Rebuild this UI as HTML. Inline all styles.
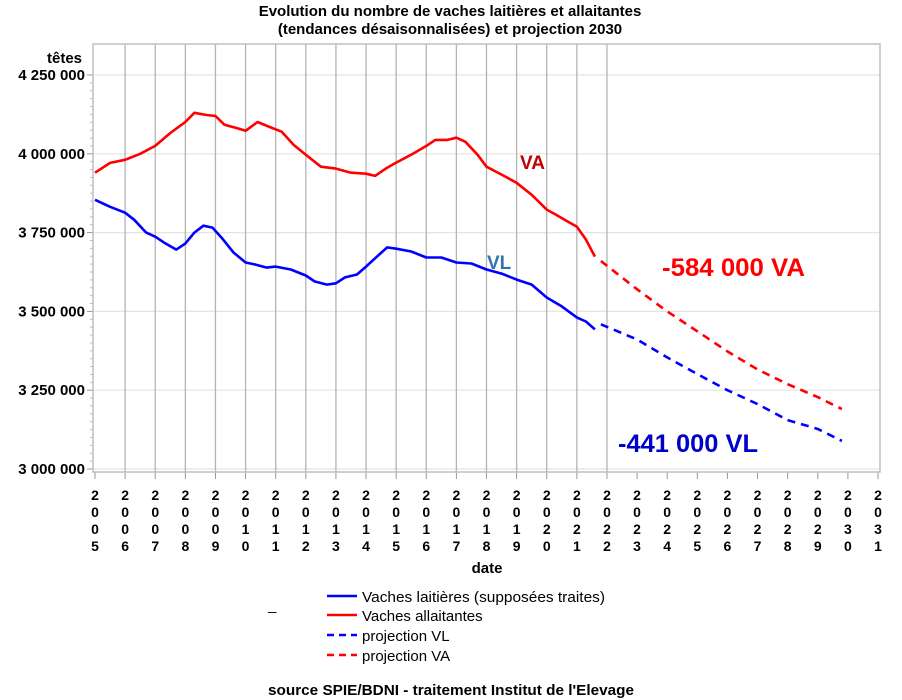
<!DOCTYPE html>
<html><head><meta charset="utf-8"><style>
html,body{margin:0;padding:0;background:#fff;}
svg{display:block;font-family:"Liberation Sans",Arial,sans-serif;}
</style></head><body>
<svg id="chart" width="902" height="700" viewBox="0 0 902 700" xmlns="http://www.w3.org/2000/svg">
<g font-weight="bold" font-size="15" text-anchor="middle">
<text x="450" y="16">Evolution du nombre de vaches laitières et allaitantes</text>
<text x="450" y="34">(tendances désaisonnalisées) et projection 2030</text>
</g>
<text x="47" y="63" font-weight="bold" font-size="15">têtes</text>
<g id="grid"></g>
<g id="yaxis"></g>
<g id="xaxis"></g>
<g id="series"></g>
<rect x="93" y="44" width="787" height="428" fill="none" stroke="#bcc0c4" stroke-width="1.5"/>
<text x="520" y="169" fill="#c00000" font-weight="bold" font-size="19">VA</text>
<text x="487" y="269" fill="#2e75b6" font-weight="bold" font-size="19">VL</text>
<text x="662" y="276" fill="#ff0000" font-weight="bold" font-size="25" textLength="143" lengthAdjust="spacingAndGlyphs">-584 000 VA</text>
<text x="618" y="452" fill="#0000cc" font-weight="bold" font-size="25" textLength="140" lengthAdjust="spacingAndGlyphs">-441 000 VL</text>
<text x="487" y="573" font-weight="bold" font-size="15" text-anchor="middle">date</text>
<g font-size="15">
<text x="268" y="610">_</text>
<line x1="327" y1="596" x2="357" y2="596" stroke="#0000ff" stroke-width="2.5"/>
<text x="362" y="602" textLength="243" lengthAdjust="spacingAndGlyphs">Vaches laitières (supposées traites)</text>
<line x1="327" y1="615" x2="357" y2="615" stroke="#ff0000" stroke-width="2.5"/>
<text x="362" y="621">Vaches allaitantes</text>
<line x1="327" y1="635" x2="357" y2="635" stroke="#0000ff" stroke-width="2.5" stroke-dasharray="7,5"/>
<text x="362" y="641">projection VL</text>
<line x1="327" y1="655" x2="357" y2="655" stroke="#ff0000" stroke-width="2.5" stroke-dasharray="7,5"/>
<text x="362" y="661">projection VA</text>
</g>
<text x="451" y="695" font-weight="bold" font-size="15" text-anchor="middle" textLength="366" lengthAdjust="spacingAndGlyphs">source SPIE/BDNI - traitement Institut de l'Elevage</text>
</svg>
<script>
const yTicks=[3000000,3250000,3500000,3750000,4000000,4250000];
const yTickLabels=["3 000 000","3 250 000","3 500 000","3 750 000","4 000 000","4 250 000"];
const xYears=[2005,2006,2007,2008,2009,2010,2011,2012,2013,2014,2015,2016,2017,2018,2019,2020,2021,2022,2023,2024,2025,2026,2027,2028,2029,2030,2031];
const vaDates=[2005,2005.5,2006,2006.5,2007,2007.5,2008,2008.3,2008.7,2009,2009.3,2009.7,2010,2010.4,2010.8,2011.2,2011.6,2012,2012.5,2013,2013.5,2014,2014.3,2014.7,2015,2015.5,2016,2016.3,2016.7,2017,2017.3,2017.7,2018,2018.5,2019,2019.5,2020,2020.3,2020.7,2021,2021.3,2021.6];
const vaValues=[3940000,3971000,3981000,4000000,4025000,4066000,4101000,4130000,4123000,4120000,4092000,4082000,4073000,4101000,4085000,4070000,4028000,3997000,3959000,3953000,3940000,3937000,3930000,3956000,3972000,3997000,4025000,4044000,4044000,4051000,4038000,3997000,3959000,3934000,3908000,3870000,3823000,3807000,3785000,3769000,3728000,3674000];
const vlDates=[2005,2005.5,2006,2006.3,2006.7,2007,2007.3,2007.7,2008,2008.3,2008.6,2008.9,2009.2,2009.6,2010,2010.3,2010.7,2011,2011.5,2012,2012.3,2012.7,2013,2013.3,2013.7,2014,2014.4,2014.7,2015,2015.5,2016,2016.5,2017,2017.5,2018,2018.5,2019,2019.5,2020,2020.5,2021,2021.3,2021.6];
const vlValues=[3854000,3832000,3813000,3791000,3750000,3737000,3718000,3696000,3715000,3750000,3772000,3766000,3734000,3687000,3655000,3649000,3639000,3642000,3633000,3614000,3595000,3585000,3589000,3608000,3617000,3642000,3677000,3703000,3699000,3690000,3671000,3671000,3655000,3652000,3633000,3620000,3601000,3585000,3544000,3516000,3481000,3468000,3443000];
const projDates=[2021.8,2023,2024,2025,2026,2027,2028,2029,2029.8];
const projVA=[3660000,3570000,3500000,3437000,3373000,3316000,3269000,3228000,3190000];
const projVL=[3459000,3411000,3354000,3301000,3250000,3206000,3155000,3127000,3089000];

const NS="http://www.w3.org/2000/svg";
const xS=d=>95+(d-2005)*(783/26);
const yS=v=>469-(v-3000000)*(394/1250000);
function mk(tag,attrs,parent){const e=document.createElementNS(NS,tag);for(const k in attrs)e.setAttribute(k,attrs[k]);parent.appendChild(e);return e;}
const grid=document.getElementById('grid'),yax=document.getElementById('yaxis'),xax=document.getElementById('xaxis'),ser=document.getElementById('series');
yTicks.forEach((t,i)=>{
  const l=mk('line',{x1:93,x2:880,y1:yS(t),y2:yS(t),stroke:'#e4e4e4','stroke-width':1.2},grid);
  
  
  const tk=mk('line',{x1:87,x2:93,y1:yS(t),y2:yS(t),stroke:'#999','stroke-width':1},yax);
  
  
  const tx=mk('text',{x:85,y:yS(t)+5,'text-anchor':'end','font-weight':'bold','font-size':15},yax);
  tx.textContent=yTickLabels[i];
  
  
  if(i<yTicks.length-1){for(let m=1;m<10;m++){const v=t+m*25000;const mt=mk('line',{x1:90,x2:93,y1:yS(v),y2:yS(v),stroke:'#bbb','stroke-width':1},yax);
    
    }}
});
xYears.forEach(yr=>{
  const x=xS(yr);
  if(yr>2005&&yr<=2022){const g=mk('line',{x1:x,x2:x,y1:44,y2:472,stroke:'#b4b4b4','stroke-width':1.3},grid);
    
    }
  const tk=mk('line',{x1:x,x2:x,y1:472,y2:479,stroke:'#999','stroke-width':1},xax);
  
  
  const tx=mk('text',{x:x,'text-anchor':'middle','font-weight':'bold','font-size':14},xax);
  
  
  String(yr).split('').forEach((c,i)=>{const ts=mk('tspan',{x:x,y:500+i*17},tx);ts.textContent=c;});
});
function path(dates,vals,color,dash,name){
  const d=dates.map((t,i)=>(i?'L':'M')+xS(t).toFixed(1)+','+yS(vals[i]).toFixed(1)).join('');
  const p=mk('path',{d:d,fill:'none',stroke:color,'stroke-width':2.6,'stroke-linejoin':'round'},ser);
  if(dash)p.setAttribute('stroke-dasharray','8,6');
  
  
}
path(vaDates,vaValues,'#ff0000',false,'va-line');
path(vlDates,vlValues,'#0000ff',false,'vl-line');
path(projDates,projVA,'#ff0000',true,'va-projection-line');
path(projDates,projVL,'#0000ff',true,'vl-projection-line');
</script>
</body></html>
